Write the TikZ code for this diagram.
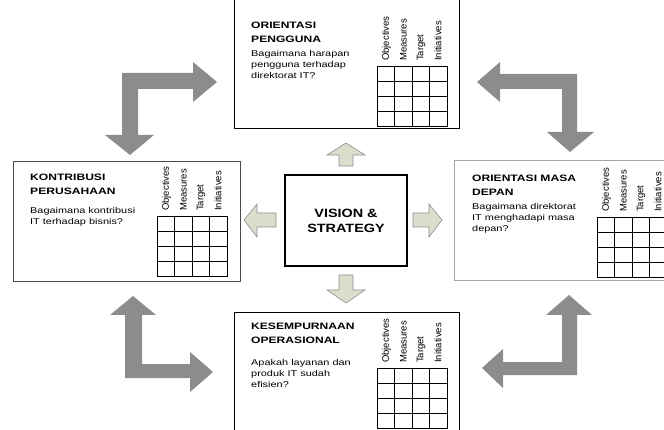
\documentclass[tikz,border=0pt]{standalone}
\usepackage{fontspec}
\setmainfont{Liberation Sans}
\newfontfamily\widesans[FakeStretch=1.3]{Liberation Sans}
\newfontfamily\midsans[FakeStretch=1.2]{Liberation Sans}
\definecolor{bigfill}{RGB}{140,140,140}
\definecolor{smallfill}{RGB}{221,221,204}

% grid with the four rotated column heads; #1,#2 = top left corner, #3 = name prefix
\newcommand{\bscgrid}[3]{%
  \draw[gridline] (#1,#2) rectangle ++(70,60);
  \foreach \gx in {17.5,35,52.5} \draw[gridline] (#1+\gx,#2) -- ++(0,60);
  \foreach \gy in {15,30,45} \draw[gridline] (#1,#2+\gy) -- ++(70,0);
  \node[headlbl] (#3obj) at (#1+9.5,#2-5) {Objectives};
  \node[headlbl] (#3mea) at (#1+26.5,#2-5) {Measures};
  \node[headlbl] (#3tar) at (#1+44,#2-5) {Target};
  \node[headlbl] (#3ini) at (#1+61,#2-5) {Initiatives};
}

\begin{document}
\begin{tikzpicture}[x=1pt,y=-1pt,
  boxline/.style={line width=0.9pt},
  gridline/.style={line width=0.8pt},
  bigarrow/.style={fill=bigfill,draw=none},
  smallarrow/.style={fill=smallfill,draw=black!45,line width=0.6pt},
  headlbl/.style={rotate=90,anchor=west,inner sep=0pt,font=\fontsize{9.5}{10}\selectfont},
  titletxt/.style={anchor=north west,inner sep=0pt,align=left,font=\widesans\fontsize{9.3}{14}\selectfont\bfseries},
  bodytxt/.style={anchor=north west,inner sep=0pt,align=left,font=\widesans\fontsize{8.4}{11}\selectfont}]
\useasboundingbox (0,0) rectangle (664,430);

% perspective boxes
\draw[boxline] (234,-2) rectangle (459,128);
\draw[boxline,draw=black!70] (13,161) rectangle (240,281);
\draw[boxline,draw=black!35] (454,160) rectangle (668,280);
\draw[boxline] (234,312) rectangle (459,432);

\node[titletxt] (pengguna) at (251,22.2) {ORIENTASI\\PENGGUNA};
\node[bodytxt] (penggunaq) at (251,50) {Bagaimana harapan\\pengguna terhadap\\direktorat IT?};
\bscgrid{377}{66}{pg}

\node[titletxt] (kontribusi) at (30,174.2) {KONTRIBUSI\\PERUSAHAAN};
\node[bodytxt] (kontribusiq) at (30,207) {Bagaimana kontribusi\\IT terhadap bisnis?};
\bscgrid{157}{216}{kp}

\node[titletxt] (masadepan) at (472,175.2) {ORIENTASI MASA\\DEPAN};
\node[bodytxt] (masadepanq) at (472,203) {Bagaimana direktorat\\IT menghadapi masa\\depan?};
\bscgrid{597}{217}{md}

\node[titletxt] (operasional) at (251,323.2) {KESEMPURNAAN\\OPERASIONAL};
\node[bodytxt] (operasionalq) at (251,359) {Apakah layanan dan\\produk IT sudah\\efisien?};
\bscgrid{377}{368}{ko}

% centre
\node[draw,line width=1.8pt,minimum width=122pt,minimum height=91pt,align=center,
  font=\midsans\fontsize{12}{15}\selectfont\bfseries] (vision) at (346,220.5) {VISION \&\\STRATEGY};

% small arrows out of the centre
\draw[smallarrow] (346,143) -- (365,155) -- (353,155) -- (353,166) -- (339,166) -- (339,155) -- (327,155) -- cycle;
\draw[smallarrow] (346,303) -- (365,290) -- (353,290) -- (353,275) -- (339,275) -- (339,290) -- (327,290) -- cycle;
\draw[smallarrow] (244,220) -- (257,204) -- (257,213) -- (276,213) -- (276,227) -- (257,227) -- (257,237) -- cycle;
\draw[smallarrow] (442,220) -- (429,204) -- (429,213) -- (413,213) -- (413,227) -- (429,227) -- (429,237) -- cycle;

% big corner arrows
\fill[bigarrow] (217,82) -- (193,62) -- (193,73) -- (122,73) -- (122,135) -- (105,135) -- (130,155) -- (154,135) -- (138,135) -- (138,89) -- (193,89) -- (193,102) -- cycle;
\fill[bigarrow] (477,82) -- (500,62) -- (500,74) -- (577,74) -- (577,132) -- (594,132) -- (570,152) -- (547,132) -- (562,132) -- (562,89) -- (500,89) -- (500,102) -- cycle;
\fill[bigarrow] (133,296) -- (156,315) -- (142,315) -- (142,364) -- (190,364) -- (190,352) -- (213,372) -- (190,392) -- (190,378) -- (125,378) -- (125,315) -- (110,315) -- cycle;
\fill[bigarrow] (482,368) -- (503,349) -- (503,362) -- (562,362) -- (562,315) -- (546,315) -- (569,295) -- (592,315) -- (577,315) -- (577,375) -- (503,375) -- (503,388) -- cycle;
\end{tikzpicture}
\end{document}
